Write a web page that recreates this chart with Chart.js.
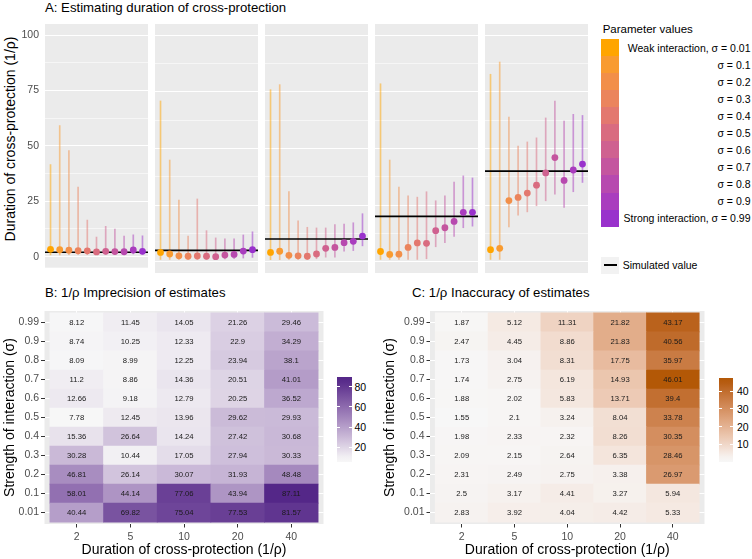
<!DOCTYPE html>
<html><head><meta charset="utf-8">
<script src="https://cdn.jsdelivr.net/npm/chart.js@4.4.1/dist/chart.umd.min.js"></script>
<style>
html,body{margin:0;padding:0;background:#fff;}
#root{position:relative;width:752px;height:559px;overflow:hidden;font-family:'Liberation Sans',Arial,Helvetica,sans-serif;}
#root canvas{position:absolute;}
.tx{position:absolute;white-space:nowrap;}
</style></head><body><div id="root"></div>
<script>
// ---------------- DATA ----------------
const sigmaValues = [0.01, 0.1, 0.2, 0.3, 0.4, 0.5, 0.6, 0.7, 0.8, 0.9, 0.99];
const sigmaLabels = ['0.01','0.1','0.2','0.3','0.4','0.5','0.6','0.7','0.8','0.9','0.99'];
const durationLabels = ['2','5','10','20','40'];
const simulatedDurations = [2, 5, 10, 20, 40];
const yTicksA = [0, 25, 50, 75, 100];
const yMinorA = [12.5, 37.5, 62.5, 87.5];

// Panel A: estimates (median) and interval per sigma, one set per simulated duration
const estimate2  = [3.3, 3.1, 2.9, 2.7, 2.6, 2.1, 2.4, 2.3, 2.2, 3.0, 2.4];
const lower2     = [0.8, 0.8, 0.9, 0.9, 0.9, 0.9, 1.0, 1.0, 1.0, 1.2, 1.1];
const upper2     = [41.5, 59.1, 47.9, 31.4, 16.5, 8.8, 13.7, 12.4, 9.3, 9.8, 9.4];

const estimate5  = [4.1, 3.4, 2.6, 2.4, 2.5, 2.4, 2.2, 2.9, 3.2, 4.7, 5.3];
const lower5     = [1.0, 1.0, 1.0, 1.0, 1.0, 1.0, 1.0, 1.2, 1.3, 1.6, 1.9];
const upper5     = [71.0, 44.9, 27.2, 11.3, 27.7, 13.7, 10.5, 10.1, 10.1, 11.8, 13.2];

const estimate10 = [4.1, 4.6, 2.8, 2.6, 2.4, 3.4, 5.9, 6.3, 8.4, 9.0, 11.3];
const lower10    = [0.9, 0.9, 1.0, 1.0, 1.0, 1.3, 2.0, 2.0, 4.6, 4.9, 7.0];
const upper10    = [76.0, 78.2, 31.0, 18.1, 15.2, 14.9, 14.9, 16.4, 16.6, 17.2, 21.2];

const estimate20 = [4.5, 3.2, 3.3, 6.3, 8.3, 8.1, 13.7, 15.0, 17.8, 21.8, 21.8];
const lower20    = [1.0, 1.0, 1.0, 1.0, 1.0, 1.3, 6.6, 8.4, 11.2, 15.0, 15.7];
const upper20    = [78.6, 44.9, 33.0, 29.1, 28.5, 30.9, 26.9, 29.1, 35.2, 37.9, 37.0];

const estimate40 = [5.3, 5.9, 27.0, 28.4, 30.3, 33.8, 39.2, 46.0, 35.9, 40.5, 43.1];
const lower40    = [1.0, 1.0, 15.4, 20.6, 22.0, 24.7, 26.9, 29.8, 24.0, 30.9, 35.0];
const upper40    = [82.8, 88.2, 63.9, 51.1, 52.9, 54.7, 63.5, 71.0, 62.1, 65.1, 64.6];

// Panel B: imprecision, per duration column, sigma ascending (0.01 ... 0.99)
const imprecision2  = [40.44, 58.01, 46.81, 30.28, 15.36, 7.78, 12.66, 11.2, 8.09, 8.74, 8.12];
const imprecision5  = [69.82, 44.14, 26.14, 10.44, 26.64, 12.45, 9.18, 8.86, 8.99, 10.25, 11.45];
const imprecision10 = [75.04, 77.06, 30.07, 17.05, 14.24, 13.96, 12.79, 14.36, 12.25, 12.33, 14.05];
const imprecision20 = [77.53, 43.94, 31.93, 27.94, 27.42, 29.62, 20.25, 20.51, 23.94, 22.9, 21.26];
const imprecision40 = [81.57, 87.11, 48.48, 30.33, 30.68, 29.93, 36.52, 41.01, 38.1, 34.29, 29.46];

// Panel C: inaccuracy
const inaccuracy2  = [2.83, 2.5, 2.31, 2.09, 1.98, 1.55, 1.88, 1.74, 1.73, 2.47, 1.87];
const inaccuracy5  = [3.92, 3.17, 2.49, 2.15, 2.33, 2.1, 2.02, 2.75, 3.04, 4.45, 5.12];
const inaccuracy10 = [4.04, 4.41, 2.75, 2.64, 2.32, 3.24, 5.83, 6.19, 8.31, 8.86, 11.31];
const inaccuracy20 = [4.42, 3.27, 3.38, 6.35, 8.26, 8.04, 13.71, 14.93, 17.75, 21.83, 21.82];
const inaccuracy40 = [5.33, 5.94, 26.97, 28.46, 30.35, 33.78, 39.4, 46.01, 35.97, 40.56, 43.17];

const legendTicksB = [20, 40, 60, 80];
const legendTicksC = [10, 20, 30, 40];

// ---------------- COLOUR HELPERS ----------------
function hex2rgb(h){return [parseInt(h.slice(1,3),16),parseInt(h.slice(3,5),16),parseInt(h.slice(5,7),16)];}
function s2l(c){c/=255;return c<=0.04045?c/12.92:Math.pow((c+0.055)/1.055,2.4);}
function l2s(c){const v=c<=0.0031308?12.92*c:1.055*Math.pow(c,1/2.4)-0.055;return Math.round(Math.max(0,Math.min(1,v))*255);}
function rgb2lab(rgb){const r=s2l(rgb[0]),g=s2l(rgb[1]),b=s2l(rgb[2]);
  const x=(0.4124564*r+0.3575761*g+0.1804375*b)/0.95047,y=0.2126729*r+0.7151522*g+0.0721750*b,z=(0.0193339*r+0.1191920*g+0.9503041*b)/1.08883;
  const f=t=>t>0.008856?Math.cbrt(t):7.787*t+16/116;const fx=f(x),fy=f(y),fz=f(z);
  return [116*fy-16,500*(fx-fy),200*(fy-fz)];}
function lab2rgb(l){const fy=(l[0]+16)/116,fx=fy+l[1]/500,fz=fy-l[2]/200;
  const fi=t=>t*t*t>0.008856?t*t*t:(t-16/116)/7.787;
  const x=fi(fx)*0.95047,y=fi(fy),z=fi(fz)*1.08883;
  return [l2s(3.2404542*x-1.5371385*y-0.4985314*z),l2s(-0.9692660*x+1.8760108*y+0.0415560*z),l2s(0.0556434*x-0.2040259*y+1.0572252*z)];}
function ramp(lo,hi){const A=rgb2lab(hex2rgb(lo)),B=rgb2lab(hex2rgb(hi));
  return t=>{t=Math.max(0,Math.min(1,t));return lab2rgb(A.map((v,i)=>v+(B[i]-v)*t));};}
const css=(c,a)=>a===undefined?`rgb(${c[0]},${c[1]},${c[2]})`:`rgba(${c[0]},${c[1]},${c[2]},${a})`;

const sigmaRamp = ramp('#FFA500','#9932CC');
const sigmaColor = s => sigmaRamp((s-0.01)/0.98);
const impCols = [imprecision2, imprecision5, imprecision10, imprecision20, imprecision40];
const inaCols = [inaccuracy2, inaccuracy5, inaccuracy10, inaccuracy20, inaccuracy40];
const impMin = Math.min(...impCols.flat()), impMax = Math.max(...impCols.flat());
const inaMin = Math.min(...inaCols.flat()), inaMax = Math.max(...inaCols.flat());
const rampB = ramp('#F7F7F7','#542788');
const rampC = ramp('#F7F7F7','#B35806');
const colB = v => rampB((v-impMin)/(impMax-impMin));
const colC = v => rampC((v-inaMin)/(inaMax-inaMin));

// ---------------- LAYOUT HELPERS ----------------
const FONT = "'Liberation Sans', Arial, Helvetica, sans-serif";
Chart.defaults.font.family = FONT;
const root = document.getElementById('root');
function makeCanvas(left, top, w, h){const c=document.createElement('canvas');c.width=w;c.height=h;c.style.left=left+'px';c.style.top=top+'px';c.style.width=w+'px';c.style.height=h+'px';root.appendChild(c);return c;}
function addText(text, x, cy, size, opt={}){const d=document.createElement('div');d.className='tx';d.textContent=text;
  d.style.fontSize=size+'px';d.style.lineHeight=size+'px';d.style.top=(cy-0.49*size)+'px';d.style.color=opt.color||'#000';
  if(opt.align==='right'){d.style.right=(752-x)+'px';d.style.textAlign='right';}else d.style.left=x+'px';
  root.appendChild(d);return d;}
function addBox(l,t,w,h,bg){const d=document.createElement('div');d.style.position='absolute';d.style.left=l+'px';d.style.top=t+'px';d.style.width=w+'px';d.style.height=h+'px';d.style.background=bg;root.appendChild(d);return d;}

const panelBg = {id:'panelBg', beforeDraw(chart){const {ctx,chartArea:a}=chart;ctx.save();ctx.fillStyle='#EBEBEB';ctx.fillRect(a.left,a.top,a.right-a.left,a.bottom-a.top);ctx.restore();}};

// ---------------- PANEL A ----------------
addText('A: Estimating duration of cross-protection', 45, 7.2, 13.2);
const yt = addText('Duration of cross-protection (1/ρ)', 0, 0, 14);
yt.style.left='9.5px'; yt.style.top='139px'; yt.style.transform='translate(-50%,-50%) rotate(-90deg)';

const estimates = [estimate2, estimate5, estimate10, estimate20, estimate40];
const lowers = [lower2, lower5, lower10, lower20, lower40];
const uppers = [upper2, upper5, upper10, upper20, upper40];
const sigCols = sigmaValues.map(sigmaColor);

simulatedDurations.forEach((sim,k)=>{
  const left = k===0?0:45+110*k, width = k===0?148:103;
  const cv = makeCanvas(left, 0, width, 280);
  const est=estimates[k], lo=lowers[k], hi=uppers[k];
  new Chart(cv,{
    type:'bar',
    data:{datasets:[
      {type:'bar', order:3, data:sigmaValues.map((s,i)=>({x:i+1,y:[lo[i],hi[i]]})),
       backgroundColor:sigCols.map(c=>css(c,0.5)), borderWidth:0, barThickness:1},
      {type:'line', order:2, data:[{x:0.4,y:sim},{x:11.6,y:sim}], borderColor:'#000', borderWidth:1.6, pointRadius:0, tension:0},
      {type:'scatter', order:1, data:sigmaValues.map((s,i)=>({x:i+1,y:est[i]})),
       backgroundColor:sigCols.map(c=>css(c)), borderWidth:0, pointRadius:3.4}
    ]},
    options:{
      responsive:false, animation:false, devicePixelRatio:1,
      layout:{autoPadding:false, padding:{top:24,bottom:7,left:0,right:0}},
      plugins:{legend:{display:false},tooltip:{enabled:false}},
      scales:{
        x:{type:'linear',min:0.4,max:11.6,offset:false,display:false,bounds:'data'},
        y:{type:'linear',min:-5,max:105,bounds:'data',
           afterBuildTicks:s=>{s.ticks=[...yTicksA,...yMinorA].sort((a,b)=>a-b).map(v=>({value:v}));},
           afterFit:s=>{s.width=(k===0?45:0);},
           grid:{color:'#fff',lineWidth:c=>yTicksA.includes(c.tick.value)?1.1:0.55,drawTicks:false},
           border:{display:false},
           ticks:{display:k===0,color:'#4d4d4d',font:{size:10.5},padding:6,autoSkip:false,
                  callback:v=>yTicksA.includes(v)?String(v):''}
        }
      }
    },
    plugins:[panelBg]
  });
});

// Legend A
addText('Parameter values', 602.7, 29.7, 11.5);
const boxH = 17.06;
sigmaValues.forEach((s,i)=>{
  addBox(601, 39+i*boxH, 18, boxH+0.3, css(sigCols[i]));
  let lab = 'σ = '+sigmaLabels[i];
  if(i===0) lab='Weak interaction, σ = 0.01';
  if(i===sigmaValues.length-1) lab='Strong interaction, σ = 0.99';
  addText(lab, 750.5, 39+i*boxH+boxH/2+0.5, 10.5, {align:'right'});
});
addBox(601, 256.5, 18, 17, '#F2F2F2');
addBox(603.5, 264.2, 13, 1.6, '#000');
addText('Simulated value', 622.7, 265, 10.5);

// ---------------- HEATMAPS ----------------
function cellText(cols){return {id:'cellText',afterDatasetsDraw(chart){const {ctx,scales:{x,y}}=chart;ctx.save();
  ctx.font='7.7px '+FONT;ctx.fillStyle='#1a1a1a';ctx.textAlign='center';ctx.textBaseline='middle';
  cols.forEach((col,j)=>col.forEach((v,i)=>ctx.fillText(String(v),x.getPixelForValue(j),y.getPixelForValue(i)+0.5)));ctx.restore();}};}

function heatmap(left, width, axisWidth, titlePad, cols, colorFn){
  const cv = makeCanvas(left, 300, width, 259);
  const gridOpt = {color:'#fff',lineWidth:1,tickColor:'#333',tickLength:3.5,tickWidth:1,offset:false};
  new Chart(cv,{
    type:'bar',
    data:{datasets:sigmaValues.map((s,i)=>({
      data:durationLabels.map((d,j)=>({x:j,y:[i-0.5,i+0.5]})),
      backgroundColor:durationLabels.map((d,j)=>css(colorFn(cols[j][i]))),
      borderWidth:0,barPercentage:1,categoryPercentage:1,grouped:false
    }))},
    options:{
      responsive:false, animation:false, devicePixelRatio:1,
      layout:{autoPadding:false, padding:{top:11,right:0.5,bottom:0,left:0}},
      plugins:{legend:{display:false},tooltip:{enabled:false}},
      scales:{
        x:{type:'linear',min:-0.6,max:4.6,offset:false,bounds:'data',
           afterBuildTicks:s=>{s.ticks=durationLabels.map((d,j)=>({value:j}));},
           afterFit:s=>{s.height=35;},
           grid:gridOpt,border:{display:false},
           ticks:{color:'#4d4d4d',font:{size:10.5},padding:3,maxRotation:0,autoSkip:false,callback:v=>durationLabels[v]},
           title:{display:true,text:'Duration of cross-protection (1/ρ)',color:'#000',font:{size:14,lineHeight:1},padding:{top:0,bottom:2}}
        },
        y:{type:'linear',min:-0.6,max:10.6,bounds:'data',
           afterBuildTicks:s=>{s.ticks=sigmaLabels.map((d,i)=>({value:i}));},
           afterFit:s=>{s.width=axisWidth;},
           grid:gridOpt,border:{display:false},
           ticks:{color:'#4d4d4d',font:{size:10.5},padding:2,autoSkip:false,callback:v=>sigmaLabels[v]},
           title:{display:true,text:'Strength of interaction (σ)',color:'#000',font:{size:14,lineHeight:1},padding:{top:titlePad,bottom:0}}
        }
      }
    },
    plugins:[panelBg, cellText(cols)]
  });
}

addText('B: 1/ρ Imprecision of estimates', 45, 292, 13.2);
heatmap(0, 324, 44.5, 3, impCols, colB);
addText('C: 1/ρ Inaccuracy of estimates', 412, 292, 13.2);
heatmap(375, 330, 55, 8, inaCols, colC);

// colour bars
function colorbar(left, top, w, h, vmin, vmax, rampFn, ticks, labelLeft){
  const yOf = v => top + h - 2.5 - (v - vmin)/(vmax - vmin)*(h - 5);
  const stops=[];
  for(let n=0;n<=16;n++){const p=n/16;const y=top+h-p*h;const v=vmin+(top+h-2.5-y)/(h-5)*(vmax-vmin);
    stops.push(css(rampFn((v-vmin)/(vmax-vmin)))+' '+(p*100).toFixed(2)+'%');}
  const bar=addBox(left,top,w,h,'');bar.style.background='linear-gradient(to top,'+stops.join(',')+')';
  ticks.forEach(t=>{const y=yOf(t);addBox(left,y-0.5,3,1,'#fff');addBox(left+w-3,y-0.5,3,1,'#fff');
    addText(String(t), labelLeft, y, 10.5, {color:'#000'});});
}
colorbar(337, 377, 15, 85, impMin, impMax, rampB, legendTicksB, 354.5);
colorbar(719, 378, 14, 84, inaMin, inaMax, rampC, legendTicksC, 737);
</script></body></html>
